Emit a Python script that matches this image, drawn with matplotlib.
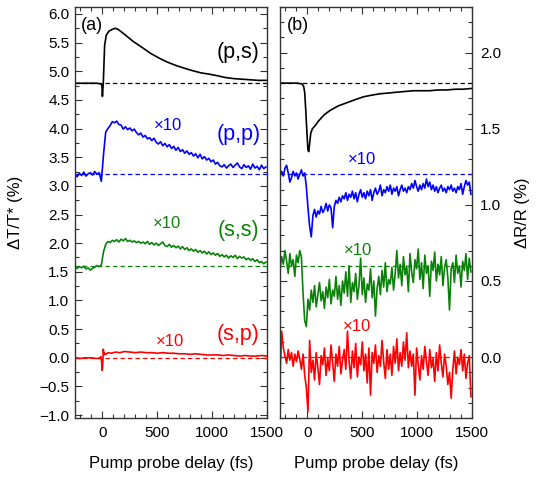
import numpy as np
import matplotlib
matplotlib.use("Agg")
import matplotlib.pyplot as plt
from matplotlib.ticker import MultipleLocator

plt.rcParams['font.family'] = ['Liberation Sans', 'DejaVu Sans']

# ---- panel (a): transmission, left axis ----
t_ps_a = [-250, -150, -50, -20, -5, 0, 8, 20, 35, 60, 90, 120, 150, 210, 280, 365, 440, 515,
          590, 670, 750, 820, 900, 970, 1050, 1120, 1200, 1275, 1350, 1420, 1500]
ps_a = [4.79, 4.79, 4.79, 4.78, 4.76, 4.56, 4.80, 5.45, 5.63, 5.70, 5.73, 5.75, 5.72, 5.63, 5.52,
        5.41, 5.31, 5.23, 5.16, 5.10, 5.05, 5.01, 4.97, 4.95, 4.92, 4.89, 4.87, 4.86, 4.85, 4.84, 4.84]

t_a = np.arange(-250, 1501, 20)
pp_a = [3.19, 3.16, 3.22, 3.18, 3.24, 3.17, 3.21, 3.23, 3.19, 3.25, 3.20, 3.23, 3.08,
        3.55, 3.94, 4.00, 4.05, 4.12, 4.10, 4.13, 4.07, 4.06, 3.99, 4.03, 3.98, 4.01, 3.96,
        3.99, 3.93, 3.89, 3.92, 3.85, 3.88, 3.82, 3.84, 3.79, 3.83, 3.76, 3.73, 3.77, 3.70,
        3.74, 3.68, 3.72, 3.65, 3.69, 3.62, 3.67, 3.60, 3.63, 3.57, 3.61, 3.55, 3.58, 3.52,
        3.56, 3.49, 3.55, 3.47, 3.51, 3.45, 3.48, 3.42, 3.45, 3.38, 3.41, 3.35, 3.33, 3.37,
        3.31, 3.35, 3.38, 3.32, 3.36, 3.40, 3.33, 3.30, 3.37, 3.32, 3.35, 3.29, 3.38, 3.31,
        3.34, 3.28, 3.36, 3.30, 3.33]
ss_a = [1.58, 1.56, 1.59, 1.57, 1.60, 1.55, 1.57, 1.53, 1.56, 1.58, 1.61, 1.59, 1.62,
        1.85, 1.98, 2.03, 2.01, 2.05, 2.03, 2.06, 2.02, 2.07, 2.04, 2.08, 2.03, 2.05, 2.02,
        2.04, 2.01, 2.03, 2.00, 2.02, 1.99, 2.03, 1.98, 2.01, 1.97, 2.00, 1.96, 1.99, 2.02,
        1.96, 1.94, 1.98, 1.93, 1.96, 1.92, 1.95, 1.90, 1.94, 1.89, 1.92, 1.87, 1.90, 1.86,
        1.89, 1.84, 1.87, 1.83, 1.86, 1.81, 1.85, 1.80, 1.83, 1.79, 1.82, 1.77, 1.80, 1.76,
        1.79, 1.74, 1.78, 1.75, 1.79, 1.73, 1.77, 1.74, 1.76, 1.71, 1.74, 1.70, 1.73, 1.68,
        1.71, 1.66, 1.68, 1.64, 1.67]

t_sp_a = [-250, -200, -150, -100, -60, -30, -15, -8, -3, 2, 8, 14, 20, 30, 50, 80, 120, 160, 200,
          250, 300, 350, 400, 450, 500, 550, 600, 650, 700, 750, 800, 850, 900, 950, 1000, 1050,
          1100, 1150, 1200, 1250, 1300, 1350, 1400, 1450, 1500]
sp_a = [0.00, -0.01, 0.00, 0.00, -0.01, -0.01, 0.02, -0.05, -0.22, -0.15, 0.15, 0.05, 0.08, 0.06,
        0.09, 0.08, 0.10, 0.09, 0.11, 0.10, 0.09, 0.10, 0.09, 0.09, 0.08, 0.09, 0.08, 0.08, 0.07,
        0.07, 0.06, 0.07, 0.06, 0.05, 0.05, 0.05, 0.04, 0.05, 0.04, 0.03, 0.04, 0.03, 0.03, 0.04, 0.03]

# ---- panel (b): reflection, right axis ----
t_ps_b = [-250, -100, -50, -35, -25, -15, -5, 5, 12, 20, 30, 45, 70, 100, 150, 205, 280, 355, 430,
          510, 580, 660, 740, 810, 890, 965, 1040, 1115, 1190, 1270, 1350, 1420, 1500]
ps_b = [1.80, 1.80, 1.795, 1.78, 1.74, 1.62, 1.48, 1.36, 1.35, 1.40, 1.47, 1.50, 1.52, 1.55, 1.59,
        1.62, 1.65, 1.67, 1.69, 1.71, 1.72, 1.73, 1.735, 1.74, 1.745, 1.75, 1.75, 1.75, 1.755,
        1.755, 1.76, 1.76, 1.765]

t_b = np.arange(-250, 1501, 15)
pp_b = [1.20, 1.22, 1.19, 1.24, 1.26, 1.21, 1.15, 1.18, 1.22, 1.19,
        1.21, 1.17, 1.20, 1.23, 1.19, 1.21, 1.12,
        0.98, 0.86, 0.79, 0.93, 0.97, 0.92, 0.96, 0.94, 0.99, 0.95, 0.97, 1.01, 0.96, 1.00,
        0.98, 0.85, 0.99, 1.03, 1.01, 1.05, 1.02, 1.06, 1.04, 1.08, 1.03, 1.07, 1.05, 1.09,
        1.04, 1.08, 1.02, 1.07, 1.10, 1.05, 1.08, 1.04, 1.09, 1.06, 1.10, 1.03, 1.08, 1.11,
        1.07, 1.09, 1.13, 1.06, 1.10, 1.08, 1.12, 1.09, 1.13, 1.07, 1.11, 1.09, 1.12, 1.06,
        1.10, 1.13, 1.09, 1.11, 1.08, 1.12, 1.10, 1.14, 1.11, 1.16, 1.12, 1.09, 1.13, 1.10,
        1.14, 1.11, 1.17, 1.12, 1.15, 1.10, 1.13, 1.09, 1.12, 1.08, 1.11, 1.13, 1.09, 1.11,
        1.08, 1.12, 1.10, 1.13, 1.09, 1.11, 1.08, 1.12, 1.10, 1.14, 1.07, 1.12, 1.16, 1.13,
        1.15, 1.07]
ss_b = [0.58, 0.66, 0.61, 0.70, 0.63, 0.55, 0.68, 0.60, 0.64, 0.53, 0.67, 0.62, 0.70, 0.66,
        0.42, 0.24, 0.20,
        0.38, 0.31, 0.44, 0.36, 0.47, 0.33, 0.41, 0.49, 0.37, 0.43, 0.32, 0.46, 0.39, 0.51,
        0.35, 0.44, 0.40, 0.53, 0.38, 0.47, 0.34, 0.50, 0.42, 0.56,
        0.40, 0.60, 0.36, 0.49, 0.43, 0.55, 0.38, 0.47, 0.65, 0.41, 0.52, 0.36, 0.48, 0.44,
        0.58, 0.39, 0.50, 0.27, 0.45, 0.53, 0.41, 0.57, 0.46, 0.62, 0.43, 0.51,
        0.48, 0.59, 0.44, 0.55, 0.70, 0.52, 0.61, 0.47, 0.66, 0.54,
        0.60, 0.43, 0.68, 0.56, 0.49, 0.64, 0.58, 0.71, 0.51, 0.62,
        0.45, 0.67, 0.55, 0.60, 0.40, 0.63, 0.57, 0.69, 0.50, 0.61,
        0.54, 0.66, 0.47, 0.59, 0.64, 0.52, 0.31, 0.58, 0.62, 0.49,
        0.67, 0.55, 0.60, 0.46, 0.63, 0.57, 0.68, 0.51, 0.65, 0.56]
sp_b = [-0.13, 0.17, 0.06, 0.01, -0.04, 0.05, -0.02, 0.03, -0.06, 0.02, -0.03, 0.04, -0.01,
        -0.08, 0.02, -0.12, -0.20, -0.36, 0.11,
        -0.10, -0.02, -0.15, 0.03, -0.07, -0.18, 0.01, -0.05, 0.06, -0.12,
        -0.01, -0.09, 0.08, -0.04, -0.16, 0.02, -0.06, 0.07, -0.11, -0.02,
        0.05, -0.08, 0.17, -0.03, -0.14, 0.04, -0.07, 0.09, -0.13, 0.00,
        -0.05, 0.10, -0.09, 0.02, -0.17, 0.06, -0.25, 0.03, -0.04, 0.08,
        -0.10, 0.01, -0.06, 0.11, -0.03, -0.14, 0.05, -0.08, 0.02, -0.12,
        0.07, -0.04, 0.12, -0.09, 0.03, -0.06, 0.10, -0.02, 0.16, -0.07,
        0.04, -0.06, 0.02, -0.25, 0.06, -0.05, -0.15, 0.01, -0.08, 0.07,
        -0.03, -0.12, 0.05, -0.07, -0.01, -0.16, 0.03, -0.09, 0.08, -0.04,
        -0.13, 0.02, -0.06, -0.18, -0.10, -0.27, -0.08, 0.04, -0.11, 0.00,
        -0.05, 0.05, -0.09, 0.02, -0.14, -0.04, 0.01, -0.26]

base_a = [4.8, 3.2, 1.6, 0.0]
base_b = [1.8, 1.2, 0.6, 0.0]
colors = ['black', '#0000ff', '#0a820a', '#ff0000']

W, H = 541, 491
fig = plt.figure(figsize=(W / 100, H / 100), dpi=100)
axa = fig.add_axes([75 / W, 1 - 418 / H, 192 / W, 411 / H])
axb = fig.add_axes([280 / W, 1 - 418 / H, 192 / W, 411 / H])

lw = 1.2
dash = (0, (3.5, 2.5))

axa.plot(t_ps_a, ps_a, color=colors[0], lw=lw)
axa.plot(t_a, pp_a, color=colors[1], lw=lw)
axa.plot(t_a, ss_a, color=colors[2], lw=lw)
axa.plot(t_sp_a, sp_a, color=colors[3], lw=lw)
for b, c in zip(base_a, colors):
    axa.axhline(b, color=c, lw=0.9, ls=dash)

axb.plot(t_ps_b, ps_b, color=colors[0], lw=lw)
axb.plot(t_b, pp_b, color=colors[1], lw=lw)
axb.plot(t_b, ss_b, color=colors[2], lw=lw)
axb.plot(t_b, sp_b, color=colors[3], lw=lw)
for b, c in zip(base_b, colors):
    axb.axhline(b, color=c, lw=0.9, ls=dash)

axa.set_xlim(-250, 1500)
axa.set_ylim(-1.05, 6.12)
axb.set_xlim(-250, 1500)
axb.set_ylim(-0.40, 2.30)

for ax in (axa, axb):
    ax.xaxis.set_major_locator(MultipleLocator(500))
    ax.xaxis.set_minor_locator(MultipleLocator(100))
    ax.tick_params(which='both', direction='in', top=True, bottom=True, left=True, right=True,
                   labelsize=11, width=0.8, color='#333333')
    ax.tick_params(which='major', length=5, pad=6)
    ax.tick_params(which='minor', length=3)
    ax.set_xlabel('Pump probe delay (fs)', fontsize=12, labelpad=11)
    for s in ax.spines.values():
        s.set_linewidth(1.0)
        s.set_color('#333333')

axa.yaxis.set_major_locator(MultipleLocator(0.5))
axa.yaxis.set_minor_locator(MultipleLocator(0.25))
axa.tick_params(axis='y', which='major', pad=4)
axa.set_ylabel('ΔT/T* (%)', fontsize=12, labelpad=12)

axb.yaxis.set_major_locator(MultipleLocator(0.5))
axb.yaxis.set_minor_locator(MultipleLocator(0.1))
axb.tick_params(labelleft=False, labelright=True)
axb.tick_params(axis='y', which='major', pad=6)
axb.yaxis.set_label_position('right')
axb.set_ylabel('ΔR/R (%)', fontsize=12, labelpad=10)

# panel tags and curve labels
axa.text(-200, 5.80, '(a)', fontsize=13, ha='left', va='center')
axb.text(-190, 2.18, '(b)', fontsize=13, ha='left', va='center')
axa.text(1430, 5.32, '(p,s)', fontsize=15.5, ha='right', va='center', color=colors[0])
axa.text(1440, 3.89, '(p,p)', fontsize=15.5, ha='right', va='center', color=colors[1])
axa.text(1425, 2.22, '(s,s)', fontsize=15.5, ha='right', va='center', color=colors[2])
axa.text(1430, 0.41, '(s,p)', fontsize=15.5, ha='right', va='center', color=colors[3])
axa.text(595, 4.05, '×10', fontsize=12, ha='center', va='center', color=colors[1])
axa.text(590, 2.35, '×10', fontsize=12, ha='center', va='center', color=colors[2])
axa.text(620, 0.29, '×10', fontsize=12, ha='center', va='center', color=colors[3])
axb.text(493, 1.30, '×10', fontsize=12, ha='center', va='center', color=colors[1])
axb.text(460, 0.70, '×10', fontsize=12, ha='center', va='center', color=colors[2])
axb.text(456, 0.20, '×10', fontsize=12, ha='center', va='center', color=colors[3])

fig.savefig('out.png', dpi=100)
